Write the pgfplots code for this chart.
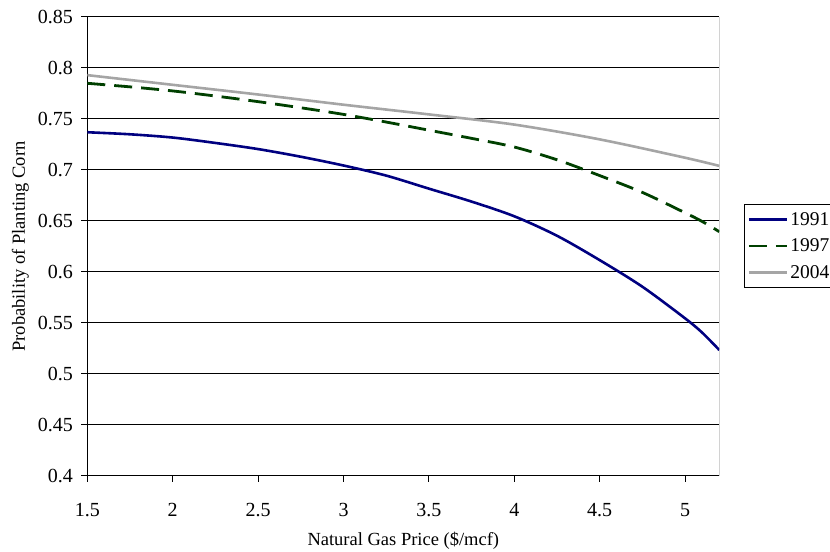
\documentclass[border=0pt]{standalone}
\usepackage{pgfplots}
\pgfplotsset{compat=1.18}
\usepackage{fontspec}
\setmainfont{Liberation Serif}
\definecolor{c1991}{RGB}{0,0,128}
\definecolor{c1997}{RGB}{0,64,0}
\definecolor{c2004}{RGB}{165,165,165}
\begin{document}
\begin{tikzpicture}[x=1bp,y=1bp]
\path[use as bounding box] (0,0) rectangle (830,552);
\begin{axis}[
  at={(87.3bp,76bp)}, anchor=south west,
  scale only axis, width=632bp, height=459bp,
  xmin=1.5, xmax=5.2, ymin=0.4, ymax=0.85,
  xtick={1.5,2,2.5,3,3.5,4,4.5,5},
  ytick={0.4,0.45,0.5,0.55,0.6,0.65,0.7,0.75,0.8,0.85},
  yticklabel style={/pgf/number format/fixed,/pgf/number format/precision=2},
  xticklabel style={/pgf/number format/fixed,/pgf/number format/precision=1},
  /pgf/number format/assume math mode=true,
  tick label style={font=\fontsize{20bp}{22bp}\selectfont},
  axis x line*=bottom, axis y line*=left,
  axis line style={black, line width=1bp, -},
  tick style={black, line width=1bp},
  tick align=outside, major tick length=6bp,
  xtick pos=bottom, ytick pos=left,
  xticklabel shift=18bp, yticklabel shift=5bp,
  ymajorgrids, grid style={black, line width=1bp},
  xlabel={Natural Gas Price (\$/mcf)},
  ylabel={Probability of Planting Corn},
  label style={font=\fontsize{18.5bp}{21bp}\selectfont},
  xlabel style={at={(axis description cs:0.5,-0.1422)}, anchor=center},
  ylabel style={at={(axis description cs:-0.106,0.5)}, anchor=center, rotate=0},
  legend style={at={(axis description cs:1.039,0.5926)}, anchor=north west,
    draw=black, line width=1bp, font=\fontsize{19.5bp}{22bp}\selectfont,
    inner xsep=3bp, inner ysep=6bp, row sep=8bp},
  legend cell align=left,
  legend image code/.code={\draw[#1] (0bp,0bp) -- (38bp,0bp);},
  clip=true,
]
\addplot[c1991, line width=2.6bp, smooth] coordinates {
(1.5,0.737) (1.75,0.735) (2.0,0.7318) (2.25,0.7265) (2.5,0.7205) (2.75,0.713)
(3.0,0.7044) (3.25,0.6945) (3.5,0.6817) (3.75,0.669) (4.0,0.6546) (4.25,0.6355)
(4.5,0.6116) (4.75,0.5855) (5.0,0.5545) (5.1,0.5405) (5.2,0.5235)};
\addlegendentry{1991}
\addplot[c1997, line width=2.8bp, dash pattern=on 18bp off 9bp, smooth] coordinates {
(1.5,0.785) (1.75,0.7815) (2.0,0.7775) (2.25,0.7725) (2.5,0.767) (2.75,0.761)
(3.0,0.7545) (3.25,0.747) (3.5,0.739) (3.75,0.731) (4.0,0.7225) (4.25,0.710)
(4.5,0.6945) (4.75,0.678) (5.0,0.658) (5.1,0.6495) (5.2,0.6395)};
\addlegendentry{1997}
\addplot[c2004, line width=2.6bp, smooth] coordinates {
(1.5,0.793) (2.0,0.7835) (2.5,0.774) (3.0,0.764) (3.5,0.7545) (4.0,0.7445)
(4.5,0.730) (5.0,0.712) (5.2,0.704)};
\addlegendentry{2004}
\draw[gray, line width=1bp] (rel axis cs:1,0) -- (rel axis cs:1,1);
\end{axis}
\end{tikzpicture}
\end{document}
